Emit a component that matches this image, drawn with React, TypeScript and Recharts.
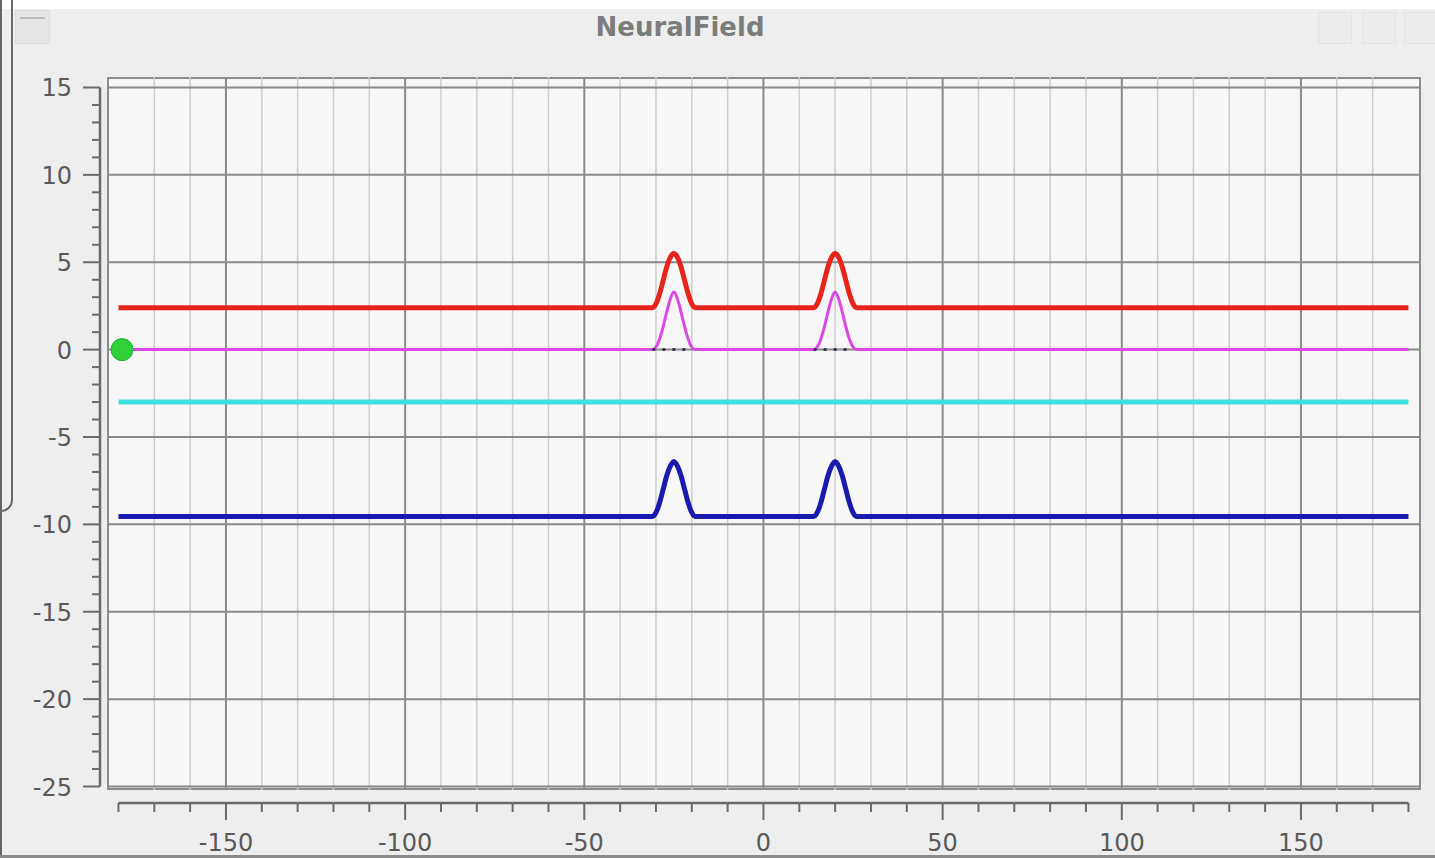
import React from 'react';
import {
  LineChart,
  Line,
  XAxis,
  YAxis,
  ReferenceLine,
  ReferenceDot,
} from 'recharts';

// sample positions along the field
const positions = [
  -180, -32, -31, -30, -29, -28, -27, -26, -25, -24, -23, -22, -21, -20, -19, -18,
  13, 14, 15, 16, 17, 18, 19, 20, 21, 22, 23, 24, 25, 26, 27, 180,
];

const activation = [
  2.4, 2.4, 2.4, 2.62, 3.18, 3.95, 4.73, 5.28, 5.5, 5.28, 4.73, 3.95, 3.18, 2.62, 2.4, 2.4,
  2.4, 2.4, 2.62, 3.18, 3.95, 4.73, 5.28, 5.5, 5.28, 4.73, 3.95, 3.18, 2.62, 2.4, 2.4, 2.4,
];

const output = [
  0, 0, 0, 0.15, 0.6, 1.3, 2.15, 2.9, 3.3, 2.9, 2.15, 1.3, 0.6, 0.15, 0, 0,
  0, 0, 0.15, 0.6, 1.3, 2.15, 2.9, 3.3, 2.9, 2.15, 1.3, 0.6, 0.15, 0, 0, 0,
];

const restingLevel = [
  -3, -3, -3, -3, -3, -3, -3, -3, -3, -3, -3, -3, -3, -3, -3, -3,
  -3, -3, -3, -3, -3, -3, -3, -3, -3, -3, -3, -3, -3, -3, -3, -3,
];

const input = [
  -9.55, -9.55, -9.55, -9.33, -8.77, -8.0, -7.22, -6.67, -6.4, -6.67, -7.22, -8.0, -8.77, -9.33, -9.55, -9.55,
  -9.55, -9.55, -9.33, -8.77, -8.0, -7.22, -6.67, -6.4, -6.67, -7.22, -8.0, -8.77, -9.33, -9.55, -9.55, -9.55,
];

const threshold = [
  null, null, 0, 0, 0, 0, 0, 0, 0, 0, 0, 0, 0, null, null, null,
  null, 0, 0, 0, 0, 0, 0, 0, 0, 0, 0, 0, null, null, null, null,
];

const xTicks = [
  -180, -170, -160, -150, -140, -130, -120, -110, -100, -90, -80, -70, -60, -50, -40, -30, -20, -10,
  0, 10, 20, 30, 40, 50, 60, 70, 80, 90, 100, 110, 120, 130, 140, 150, 160, 170, 180,
];
const yTicks = [
  15, 14, 13, 12, 11, 10, 9, 8, 7, 6, 5, 4, 3, 2, 1, 0, -1, -2, -3, -4, -5, -6, -7, -8, -9, -10,
  -11, -12, -13, -14, -15, -16, -17, -18, -19, -20, -21, -22, -23, -24, -25,
];
const xGrid = [-170, -160, -140, -130, -120, -110, -90, -80, -70, -60, -40, -30, -20, -10, 10, 20, 30, 40, 60, 70, 80, 90, 110, 120, 130, 140, 160, 170];
const xMajor = [-150, -100, -50, 0, 50, 100, 150];
const yMajor = [15, 10, 5, 0, -5, -10, -15, -20, -25];

const X_DOMAIN = [-183.2, 183.5];
const Y_DOMAIN = [-25.2, 15.6];

const W = 1435;
const H = 858;
const PLOT_LEFT = 107;
const PLOT_RIGHT = 1421;
const PLOT_TOP = 77;
const PLOT_BOTTOM = 790;
const PX_X = (PLOT_RIGHT - PLOT_LEFT) / (X_DOMAIN[1] - X_DOMAIN[0]);
const PX_Y = (PLOT_BOTTOM - PLOT_TOP) / (Y_DOMAIN[1] - Y_DOMAIN[0]);

const X_AXIS_Y = 803;
const Y_AXIS_X = 100;
const FONT = '"DejaVu Sans", sans-serif';
const AXIS_INK = '#6a6a6a';
const LABEL_INK = '#5a5a5a';

const rows = positions.map((x, i) => ({
  x,
  activation: activation[i],
  output: output[i],
  resting: restingLevel[i],
  input: input[i],
  threshold: threshold[i],
}));

function XTick(props: any) {
  const { x, payload } = props;
  const v = payload.value as number;
  const major = v % 50 === 0;
  return (
    <g>
      {v < 180 && (
        <line x1={x} x2={x + 10 * PX_X} y1={X_AXIS_Y} y2={X_AXIS_Y} stroke={AXIS_INK} strokeWidth={2.5} />
      )}
      <line x1={x} x2={x} y1={X_AXIS_Y} y2={X_AXIS_Y + (major ? 17 : 9)} stroke={AXIS_INK} strokeWidth={2} />
      {major && (
        <text x={x} y={851} textAnchor="middle" fontSize={24} fontFamily={FONT} fill={LABEL_INK}>
          {v}
        </text>
      )}
    </g>
  );
}

function YTick(props: any) {
  const { y, payload } = props;
  const v = payload.value as number;
  const major = v % 5 === 0;
  return (
    <g>
      {v > -25 && (
        <line x1={Y_AXIS_X} x2={Y_AXIS_X} y1={y} y2={y + PX_Y} stroke={AXIS_INK} strokeWidth={2.5} />
      )}
      <line x1={Y_AXIS_X - (major ? 17 : 8)} x2={Y_AXIS_X} y1={y} y2={y} stroke={AXIS_INK} strokeWidth={2} />
      {major && (
        <text x={72} y={y + 9} textAnchor="end" fontSize={24} fontFamily={FONT} fill={LABEL_INK}>
          {v}
        </text>
      )}
    </g>
  );
}

function WindowChrome() {
  return (
    <>
      <div style={{ position: 'absolute', left: 0, top: 0, width: W, height: 9, background: '#ffffff' }} />
      <div
        style={{
          position: 'absolute',
          left: 580,
          top: 12,
          width: 200,
          textAlign: 'center',
          fontFamily: FONT,
          fontWeight: 'bold',
          fontSize: 26,
          color: '#7c7c7c',
        }}
      >
        NeuralField
      </div>
      <div style={{ position: 'absolute', left: 0, top: 0, width: 2, height: H, background: '#666' }} />
      <div
        style={{
          position: 'absolute',
          left: -20,
          top: -10,
          width: 29,
          height: 518,
          border: '2px solid #6a6a6a',
          borderRadius: '0 0 12px 0',
        }}
      />
      <div
        style={{
          position: 'absolute',
          left: 15,
          top: 10,
          width: 33,
          height: 32,
          background: '#e6e6e6',
          border: '1px solid #dcdcdc',
        }}
      >
        <div style={{ margin: '6px 4px', height: 2, background: '#bdbdbd' }} />
      </div>
      {[1318, 1362, 1404].map((left) => (
        <div
          key={left}
          style={{
            position: 'absolute',
            left,
            top: 12,
            width: 32,
            height: 30,
            background: '#ececec',
            border: '1px solid #e2e2e2',
          }}
        />
      ))}
      <div style={{ position: 'absolute', left: 0, top: 855, width: W, height: 3, background: '#8a8a8a' }} />
      <div
        style={{
          position: 'absolute',
          left: PLOT_LEFT,
          top: PLOT_TOP,
          width: PLOT_RIGHT - PLOT_LEFT,
          height: PLOT_BOTTOM - PLOT_TOP,
          background: '#f7f7f7',
          boxSizing: 'border-box',
          border: '2px solid #8c8c8c',
        }}
      />
    </>
  );
}

export default function App() {
  return (
    <div
      style={{
        position: 'fixed',
        left: 0,
        top: 0,
        width: W,
        height: H,
        background: '#eeeeee',
        overflow: 'hidden',
      }}
    >
      <WindowChrome />
      <div style={{ position: 'absolute', left: 0, top: 0 }}>
        <LineChart
          width={W}
          height={H}
          data={rows}
          margin={{ top: PLOT_TOP, right: W - PLOT_RIGHT, bottom: 0, left: 0 }}
        >
          <XAxis
            dataKey="x"
            type="number"
            domain={X_DOMAIN}
            ticks={xTicks}
            interval={0}
            height={H - PLOT_BOTTOM}
            axisLine={false}
            tickLine={false}
            tick={(p: any) => <XTick {...p} />}
            allowDataOverflow
          />
          <YAxis
            type="number"
            domain={Y_DOMAIN}
            ticks={yTicks}
            interval={0}
            width={PLOT_LEFT}
            axisLine={false}
            tickLine={false}
            tick={(p: any) => <YTick {...p} />}
            allowDataOverflow
          />
          {xGrid.map((v) => (
            <ReferenceLine key={`gx${v}`} x={v} stroke="#cdcdcd" strokeWidth={1.5} />
          ))}
          {xMajor.map((v) => (
            <ReferenceLine key={`mx${v}`} x={v} stroke="#8a8a8a" strokeWidth={2} />
          ))}
          {yMajor.map((v) => (
            <ReferenceLine key={`my${v}`} y={v} stroke="#8a8a8a" strokeWidth={2} />
          ))}
          <Line dataKey="resting" stroke="#3ee0e0" strokeWidth={5} dot={false} isAnimationActive={false} />
          <Line dataKey="input" type="monotone" stroke="#1a1aae" strokeWidth={5} dot={false} isAnimationActive={false} />
          <Line dataKey="activation" type="monotone" stroke="#e8231c" strokeWidth={5} dot={false} isAnimationActive={false} />
          <Line dataKey="output" type="monotone" stroke="#dc48e4" strokeWidth={3} dot={false} isAnimationActive={false} />
          <Line
            dataKey="threshold"
            stroke="#202040"
            strokeWidth={2.5}
            strokeDasharray="3 7"
            dot={false}
            connectNulls={false}
            isAnimationActive={false}
          />
          <ReferenceDot x={-179} y={0} r={11} fill="#2fd03a" stroke="#25b030" strokeWidth={1} />
        </LineChart>
      </div>
    </div>
  );
}
